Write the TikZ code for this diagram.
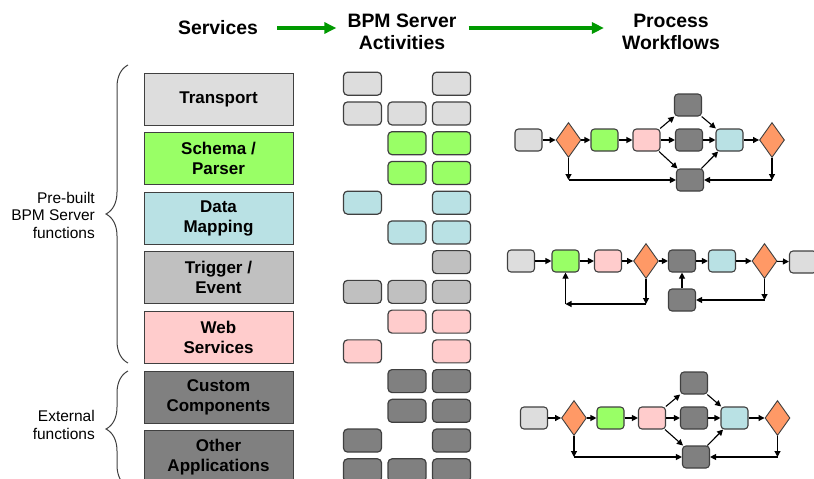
\documentclass[tikz,border=0pt]{standalone}
\usepackage{fontspec}
\setmainfont{Liberation Sans}
\usetikzlibrary{shapes.geometric,arrows.meta,decorations.pathreplacing}
\definecolor{cLight}{HTML}{DDDDDD}
\definecolor{cGreen}{HTML}{99FF66}
\definecolor{cBlue}{HTML}{B9E1E4}
\definecolor{cMid}{HTML}{C0C0C0}
\definecolor{cPink}{HTML}{FFCCCC}
\definecolor{cDark}{HTML}{808080}
\definecolor{cOrange}{HTML}{FF9966}
\definecolor{cEdge}{HTML}{404040}
\definecolor{cLead}{HTML}{009900}

\begin{document}
\begin{tikzpicture}[x=1pt,y=-1pt,
  svc/.style={draw=cEdge, line width=1pt, minimum width=149pt, minimum height=52pt,
    inner sep=0pt, align=center, font=\fontsize{17}{20}\selectfont\bfseries},
  act/.style={draw=cEdge, line width=1.2pt, rounded corners=4pt,
    minimum width=38pt, minimum height=23pt, inner sep=0pt},
  wbox/.style={draw=cEdge, line width=1.1pt, rounded corners=3.5pt,
    minimum width=27pt, minimum height=22pt, inner sep=0pt},
  dec/.style={diamond, draw=cEdge, line width=0.9pt, fill=cOrange,
    minimum width=25pt, minimum height=35pt, inner sep=0pt},
  flow/.style={-{Triangle[length=6pt,width=6pt]}, line width=1.1pt, black},
  stage/.style={font=\fontsize{19.4}{22}\selectfont\bfseries, align=center, inner sep=0pt},
  grp/.style={font=\fontsize{15.5}{17.5}\selectfont, align=right, anchor=east, inner sep=0pt},
  lead/.style={-{Triangle[length=12pt,width=11pt]}, line width=3.5pt, cLead},
  curly/.style={decorate, decoration={brace, amplitude=22pt}, draw=cEdge, line width=1pt}
]
\useasboundingbox (0,0) rectangle (814,479);

% column headings
\node[stage] (hsvc) at (218,28) {Services};
\node[stage] (hact) at (402,32) {BPM Server\\Activities};
\node[stage] (hwf) at (671,32) {Process\\Workflows};
\draw[lead, shorten <=19pt, shorten >=11pt] (hsvc.east) -- (hsvc.east -| hact.west);
\draw[lead, shorten <=12pt, shorten >=18pt] (hact.east |- hsvc.east) -- (hwf.west |- hsvc.east);

% service categories
\node[svc, fill=cLight] (s1) at (218.5,99)    {Transport};
\node[svc, fill=cGreen] (s2) at (218.5,158.6) {Schema /\\Parser};
\node[svc, fill=cBlue]  (s3) at (218.5,218.2) {Data\\Mapping};
\node[svc, fill=cMid]   (s4) at (218.5,277.8) {Trigger /\\Event};
\node[svc, fill=cPink]  (s5) at (218.5,337.4) {Web\\Services};
\node[svc, fill=cDark]  (s6) at (218.5,397)   {Custom\\Components};
\node[svc, fill=cDark]  (s7) at (218.5,456.6) {Other\\Applications};

% activity grid
\foreach \r/\c/\col in {0/1/cLight,0/3/cLight,1/1/cLight,1/2/cLight,1/3/cLight,
    2/2/cGreen,2/3/cGreen,3/2/cGreen,3/3/cGreen,
    4/1/cBlue,4/3/cBlue,5/2/cBlue,5/3/cBlue,
    6/3/cMid,7/1/cMid,7/2/cMid,7/3/cMid,
    8/2/cPink,8/3/cPink,9/1/cPink,9/3/cPink,
    10/2/cDark,10/3/cDark,11/2/cDark,11/3/cDark,
    12/1/cDark,12/3/cDark,13/1/cDark,13/2/cDark,13/3/cDark}
  \node[act, fill=\col] (a\r-\c) at ({318+44.5*\c},{83.7+29.74*\r}) {};

% groupings
\draw[curly] (128,363) -- (128,65);
\node[grp] (gpre) at (95,215) {Pre-built\\BPM Server\\functions};
\draw[curly] (128,487) -- (128,371);
\node[grp] (gext) at (95,425) {External\\functions};

% workflow 1
\node[wbox, fill=cLight] (p1) at (528.5,140) {};
\node[dec]               (p2) at (568.5,140) {};
\node[wbox, fill=cGreen] (p3) at (604.5,140) {};
\node[wbox, fill=cPink]  (p4) at (646.5,140) {};
\node[wbox, fill=cDark]  (p5) at (688,105) {};
\node[wbox, fill=cDark]  (p6) at (689,140) {};
\node[wbox, fill=cDark]  (p7) at (690,180) {};
\node[wbox, fill=cBlue]  (p8) at (729.5,140) {};
\node[dec]               (p9) at (772,140) {};
\draw[flow] (p1) -- (p2);
\draw[flow] (p2) -- (p3);
\draw[flow] (p3) -- (p4);
\draw[flow] (p4) -- (p5);
\draw[flow] (p4) -- (p6);
\draw[flow] (p4) -- (p7);
\draw[flow] (p5) -- (p8);
\draw[flow] (p6) -- (p8);
\draw[flow] (p7) -- (p8);
\draw[flow] (p8) -- (p9);
\coordinate (q1) at (p2 |- p7);
\coordinate (q2) at (p9 |- p7);
\draw[flow] (p2) -- (q1);
\draw[flow] (q1) -- (p7);
\draw[flow] (p9) -- (q2);
\draw[flow] (q2) -- (p7);

% workflow 2
\node[wbox, fill=cLight] (r1) at (521,261) {};
\node[wbox, fill=cGreen] (r2) at (565.5,261) {};
\node[wbox, fill=cPink]  (r3) at (608,261) {};
\node[dec]               (r4) at (646,261) {};
\node[wbox, fill=cDark]  (r5) at (682,261) {};
\node[wbox, fill=cBlue]  (r6) at (722,261) {};
\node[dec]               (r7) at (764.5,261) {};
\node[wbox, fill=cLight] (r8) at (803,262) {};
\node[wbox, fill=cDark]  (r9) at (682,300) {};
\draw[flow] (r1) -- (r2);
\draw[flow] (r2) -- (r3);
\draw[flow] (r3) -- (r4);
\draw[flow] (r4) -- (r5);
\draw[flow] (r5) -- (r6);
\draw[flow] (r6) -- (r7);
\draw[flow] (r7) -- (r8);
\draw[flow] (r9) -- (r5);
\coordinate (t1) at (646,304);
\coordinate (t2) at (r2 |- t1);
\draw[flow] (r4) -- (t1);
\draw[flow] (t1) -- (t2);
\draw[flow] (t2) -- (r2);
\coordinate (t3) at (r7 |- r9);
\draw[flow] (r7) -- (t3);
\draw[flow] (t3) -- (r9);

% workflow 3
\node[wbox, fill=cLight] (u1) at (534,418) {};
\node[dec]               (u2) at (574,418) {};
\node[wbox, fill=cGreen] (u3) at (610.5,418) {};
\node[wbox, fill=cPink]  (u4) at (652,418) {};
\node[wbox, fill=cDark]  (u5) at (694,383) {};
\node[wbox, fill=cDark]  (u6) at (694,418) {};
\node[wbox, fill=cDark]  (u7) at (696,457) {};
\node[wbox, fill=cBlue]  (u8) at (734.5,418) {};
\node[dec]               (u9) at (777.5,418) {};
\draw[flow] (u1) -- (u2);
\draw[flow] (u2) -- (u3);
\draw[flow] (u3) -- (u4);
\draw[flow] (u4) -- (u5);
\draw[flow] (u4) -- (u6);
\draw[flow] (u4) -- (u7);
\draw[flow] (u5) -- (u8);
\draw[flow] (u6) -- (u8);
\draw[flow] (u7) -- (u8);
\draw[flow] (u8) -- (u9);
\coordinate (v1) at (u2 |- u7);
\coordinate (v2) at (u9 |- u7);
\draw[flow] (u2) -- (v1);
\draw[flow] (v1) -- (u7);
\draw[flow] (u9) -- (v2);
\draw[flow] (v2) -- (u7);
\end{tikzpicture}
\end{document}
